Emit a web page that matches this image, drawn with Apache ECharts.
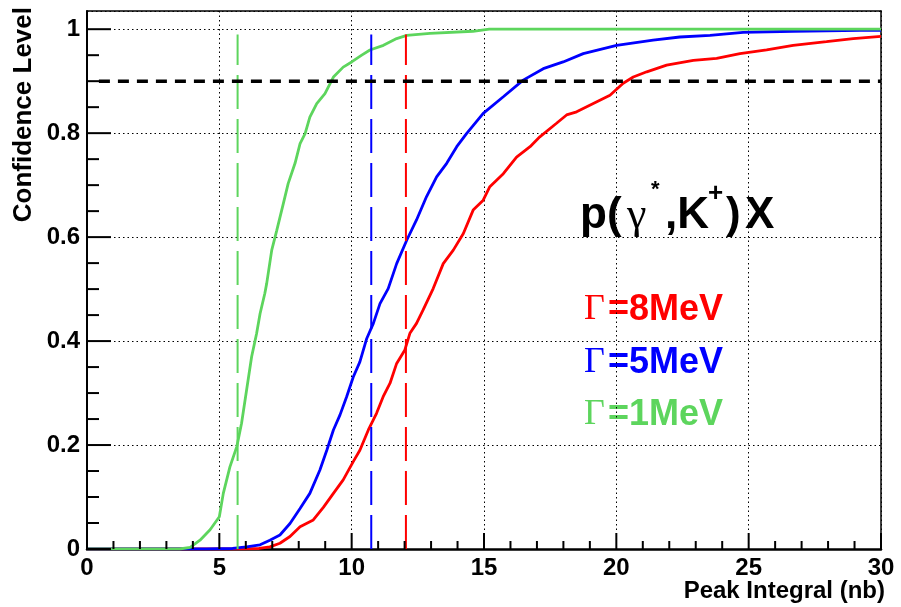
<!DOCTYPE html>
<html>
<head>
<meta charset="utf-8">
<title>Confidence Level</title>
<script src="https://cdn.jsdelivr.net/npm/echarts@6/dist/echarts.min.js"></script>
<style>
  html, body { margin: 0; padding: 0; background: #fff; }
  #main { width: 901px; height: 607px; }
</style>
</head>
<body>
<div id="main"></div>
<script>
'use strict';
// peak integral (nb) vs confidence level
var redX = [0, 5.5, 6.5, 6.91, 7.29, 7.67, 8.05, 8.55, 8.93, 9.31, 9.68, 10.06, 10.31, 10.63, 10.94, 11.19, 11.45, 11.7, 12.01, 12.2, 12.45, 12.7, 13.08, 13.46, 13.84, 14.22, 14.59, 14.97, 15.22, 15.73, 16.23, 16.74, 17.11, 17.74, 18.12, 18.5, 19.13, 19.76, 20.26, 20.64, 21.15, 21.9, 22.91, 23.79, 24.67, 25.68, 26.68, 27.94, 28.95, 30];
var redY = [0, 0, 0.001, 0.004, 0.011, 0.024, 0.043, 0.056, 0.08, 0.107, 0.133, 0.168, 0.19, 0.229, 0.261, 0.293, 0.319, 0.357, 0.383, 0.415, 0.434, 0.46, 0.501, 0.549, 0.575, 0.607, 0.652, 0.671, 0.697, 0.722, 0.754, 0.774, 0.793, 0.819, 0.835, 0.841, 0.857, 0.873, 0.896, 0.908, 0.918, 0.931, 0.94, 0.944, 0.953, 0.96, 0.969, 0.976, 0.982, 0.986];

var blueX = [0, 4.5, 5.5, 6.03, 6.54, 6.91, 7.29, 7.67, 8.05, 8.42, 8.8, 9.06, 9.31, 9.56, 9.81, 10.06, 10.31, 10.57, 10.82, 11.07, 11.38, 11.7, 12.08, 12.45, 12.83, 13.21, 13.59, 13.97, 14.34, 14.97, 15.73, 16.48, 17.24, 17.99, 18.75, 20.01, 21.39, 22.4, 23.54, 24.79, 26.68, 29.2, 30];
var blueY = [0, 0, 0.001, 0.004, 0.008, 0.017, 0.027, 0.049, 0.078, 0.107, 0.152, 0.19, 0.229, 0.258, 0.293, 0.331, 0.36, 0.405, 0.434, 0.472, 0.501, 0.549, 0.594, 0.633, 0.678, 0.716, 0.742, 0.774, 0.799, 0.838, 0.87, 0.902, 0.924, 0.937, 0.953, 0.969, 0.979, 0.985, 0.988, 0.994, 0.996, 0.998, 0.998];

var greenX = [0, 3.5, 3.9, 4.27, 4.65, 5.0, 5.15, 5.4, 5.66, 5.84, 6.03, 6.22, 6.41, 6.54, 6.72, 6.79, 6.98, 7.17, 7.42, 7.6, 7.86, 8.05, 8.24, 8.42, 8.68, 8.99, 9.31, 9.68, 10.0, 10.38, 10.69, 11.2, 11.7, 12.08, 12.96, 14.58, 15.2, 30];
var greenY = [0, 0, 0.003, 0.017, 0.037, 0.062, 0.107, 0.158, 0.197, 0.242, 0.306, 0.37, 0.415, 0.453, 0.492, 0.511, 0.575, 0.613, 0.665, 0.703, 0.742, 0.78, 0.799, 0.831, 0.857, 0.876, 0.908, 0.927, 0.937, 0.95, 0.96, 0.969, 0.982, 0.988, 0.992, 0.996, 1.0, 1.0];

// 90% limits (vertical dashed) and the 0.9 level
var limitX = [12.05, 10.74, 5.69];
var limitTop = 0.99;
var levelY = 0.9;
var levelX = [0.45, 30];

var widthLabels = ['=8MeV', '=5MeV', '=1MeV'];
var colors = ['#ff0000', '#0000ff', '#5dd55d'];

var xTicks = { min: 0, max: 30, interval: 5, minor: 1 };
var yTicks = { min: 0, max: 1.035, interval: 0.2, minor: 0.05 };

function zip(xs, ys) {
  var out = [];
  for (var i = 0; i < xs.length; i++) out.push([xs[i], ys[i]]);
  return out;
}

var boldFont = '"Liberation Sans", Arial, Helvetica, sans-serif';
var serifFont = '"Liberation Serif", "Times New Roman", serif';

var chart = echarts.init(document.getElementById('main'), null, { renderer: 'canvas' });

var curves = [zip(redX, redY), zip(blueX, blueY), zip(greenX, greenY)];
var series = [];
curves.forEach(function (d, i) {
  series.push({
    type: 'line', data: d, showSymbol: false, symbol: 'none',
    lineStyle: { color: colors[i], width: 2.8 }, z: 2 + i
  });
});
limitX.forEach(function (x, i) {
  series.push({
    type: 'line', data: [[x, 0], [x, limitTop]], showSymbol: false, symbol: 'none',
    lineStyle: { color: colors[i], width: 2, type: [34, 10] }, z: 6
  });
});
series.push({
  type: 'line', data: [[levelX[0], levelY], [levelX[1], levelY]], showSymbol: false, symbol: 'none',
  lineStyle: { color: '#000', width: 3.5, type: [11, 8] }, z: 7
});

var graphics = [
  // axis titles
  { type: 'text', x: 24, y: 7, rotation: Math.PI / 2,
    style: { text: 'Confidence Level', font: 'bold 26px ' + boldFont, fill: '#000', align: 'right', verticalAlign: 'middle' } },
  { type: 'text', right: 16, top: 579,
    style: { text: 'Peak Integral (nb)', font: 'bold 24px ' + boldFont, fill: '#000' } },
  // reaction label p(γ*,K+)X
  { type: 'text', x: 580, y: 216, style: { text: 'p(', font: 'bold 44px ' + boldFont, fill: '#000', verticalAlign: 'middle' } },
  { type: 'text', x: 627, y: 216, style: { text: 'γ', font: '44px ' + serifFont, fill: '#000', verticalAlign: 'middle' } },
  { type: 'text', x: 651, y: 190, style: { text: '*', font: 'bold 22px ' + boldFont, fill: '#000', verticalAlign: 'middle' } },
  { type: 'text', x: 665, y: 216, style: { text: ',K', font: 'bold 44px ' + boldFont, fill: '#000', verticalAlign: 'middle' } },
  { type: 'text', x: 708, y: 194, style: { text: '+', font: 'bold 26px ' + boldFont, fill: '#000', verticalAlign: 'middle' } },
  { type: 'text', x: 726, y: 216, style: { text: ')', font: 'bold 44px ' + boldFont, fill: '#000', verticalAlign: 'middle' } },
  { type: 'text', x: 745, y: 216, style: { text: 'X', font: 'bold 44px ' + boldFont, fill: '#000', verticalAlign: 'middle' } }
];
var legendY = [310, 363, 415];
widthLabels.forEach(function (t, i) {
  graphics.push({ type: 'text', x: 584, y: legendY[i],
    style: { text: 'Γ', font: '36px ' + serifFont, fill: colors[i], verticalAlign: 'middle' } });
  graphics.push({ type: 'text', x: 608, y: legendY[i],
    style: { text: t, font: 'bold 36px ' + boldFont, fill: colors[i], verticalAlign: 'middle' } });
});

var gridLine = { show: true, lineStyle: { color: '#000', width: 1, type: [1.5, 3] } };

var option = {
  animation: false,
  backgroundColor: '#fff',
  grid: { left: 87, right: 20, top: 11, bottom: 58 },
  xAxis: [{
    type: 'value', position: 'bottom', min: xTicks.min, max: xTicks.max, interval: xTicks.interval,
    axisLine: { show: true, onZero: false, lineStyle: { color: '#000', width: 2.5 } },
    axisTick: { show: false },
    splitLine: gridLine,
    axisLabel: { color: '#000', fontFamily: boldFont, fontWeight: 'bold', fontSize: 24, margin: 7 }
  }, {
    type: 'value', position: 'top', min: xTicks.min, max: xTicks.max, interval: xTicks.interval,
    axisLine: { show: true, onZero: false, lineStyle: { color: '#000', width: 1.5 } },
    axisTick: { show: false }, axisLabel: { show: false }, splitLine: { show: false }
  }],
  yAxis: [{
    type: 'value', position: 'left', min: yTicks.min, max: yTicks.max, interval: yTicks.interval,
    axisLine: { show: true, onZero: false, lineStyle: { color: '#000', width: 2 } },
    axisTick: { show: false },
    splitLine: gridLine,
    axisLabel: {
      color: '#000', fontFamily: boldFont, fontWeight: 'bold', fontSize: 24, margin: 7,
      formatter: function (v) {
        if (v > 1.0001) return '';
        return String(Math.round(v * 10) / 10);
      }
    }
  }, {
    type: 'value', position: 'right', min: yTicks.min, max: yTicks.max, interval: yTicks.interval,
    axisLine: { show: true, onZero: false, lineStyle: { color: '#000', width: 1.5 } },
    axisTick: { show: false }, axisLabel: { show: false }, splitLine: { show: false }
  }],
  series: series,
  graphic: graphics
};
chart.setOption(option);

// ROOT style inside ticks, positioned through the chart's own axes
function isMajor(v, step) {
  var r = v / step;
  return Math.abs(r - Math.round(r)) < 1e-6;
}
var tickLines = [];
for (var k = 0; k <= 30; k++) {
  var xv = k * xTicks.minor;
  var px = chart.convertToPixel({ gridIndex: 0 }, [xv, 0]);
  var lx = isMajor(xv, xTicks.interval) ? 16 : 8;
  tickLines.push({ type: 'line', z: 100,
    shape: { x1: px[0], y1: px[1], x2: px[0], y2: px[1] - lx },
    style: { stroke: '#000', lineWidth: 2 } });
}
for (var m = 0; m <= 20; m++) {
  var yv = Math.round(m * yTicks.minor * 100) / 100;
  var py = chart.convertToPixel({ gridIndex: 0 }, [0, yv]);
  var ly = isMajor(yv, yTicks.interval) ? 24 : 12;
  tickLines.push({ type: 'line', z: 100,
    shape: { x1: py[0], y1: py[1], x2: py[0] + ly, y2: py[1] },
    style: { stroke: '#000', lineWidth: 2 } });
}
chart.setOption({ graphic: graphics.concat(tickLines) });
</script>
</body>
</html>
